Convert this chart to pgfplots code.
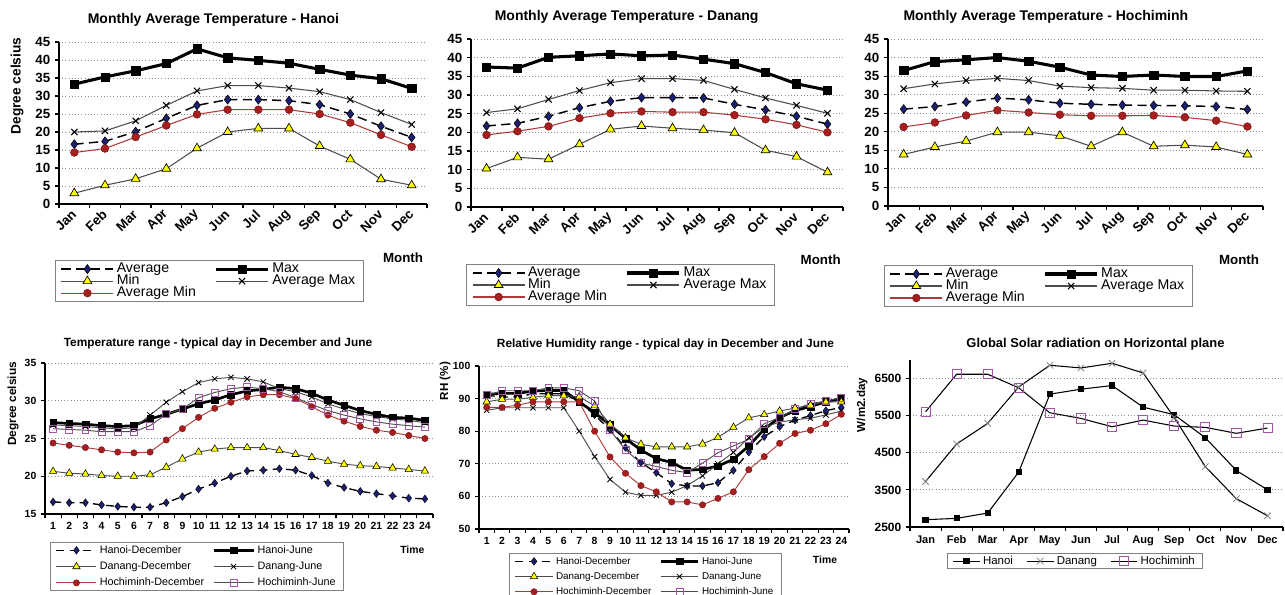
\documentclass[border=0pt]{standalone}
\usepackage{pgfplots}
\usepackage{pgfplotstable}
\pgfplotsset{compat=1.18}
\usepackage{fontspec}
\setmainfont{Liberation Sans}

\definecolor{navy}{HTML}{1C2070}
\definecolor{ylw}{HTML}{FFFF00}
\definecolor{redm}{HTML}{A81E1E}
\definecolor{redl}{HTML}{B03A3A}
\definecolor{purp}{HTML}{A555A5}
\definecolor{dgray}{HTML}{4D4D4D}
\definecolor{gridc}{HTML}{8C8C8C}

% month, Average, Max, Min, Average Max, Average Min
\pgfplotstableread{
m avg max min amax amin
1 16.6 33.3 3.0 20.0 14.3
2 17.4 35.3 5.2 20.3 15.4
3 20.1 37.0 7.0 23.1 18.6
4 23.8 39.0 9.8 27.4 21.8
5 27.4 43.1 15.5 31.4 24.9
6 29.0 40.6 20.0 32.9 26.2
7 29.0 39.9 21.0 32.9 26.2
8 28.7 39.1 21.0 32.2 26.2
9 27.6 37.4 16.1 31.2 25.0
10 25.0 35.8 12.4 29.0 22.6
11 21.6 34.8 6.9 25.4 19.2
12 18.5 32.1 5.2 22.1 15.9
}\hanoi
\pgfplotstableread{
m avg max min amax amin
1 21.7 37.5 10.3 25.3 19.3
2 22.4 37.2 13.3 26.3 20.3
3 24.3 40.1 12.8 28.8 21.6
4 26.6 40.5 16.8 31.2 23.8
5 28.3 41.0 20.8 33.3 25.1
6 29.3 40.5 21.7 34.4 25.6
7 29.3 40.7 21.1 34.4 25.4
8 29.2 39.6 20.6 33.9 25.4
9 27.5 38.4 19.9 31.5 24.6
10 26.0 36.0 15.2 29.2 23.5
11 24.3 33.0 13.5 27.2 22.0
12 22.2 31.3 9.3 25.1 20.0
}\danang
\pgfplotstableread{
m avg max min amax amin
1 26.1 36.5 13.9 31.6 21.3
2 26.8 38.9 15.9 32.9 22.5
3 28.0 39.4 17.5 33.8 24.4
4 29.1 40.0 19.9 34.4 25.8
5 28.6 39.0 19.9 33.8 25.2
6 27.7 37.4 18.9 32.3 24.6
7 27.4 35.3 16.1 31.9 24.3
8 27.2 34.9 19.9 31.7 24.3
9 27.1 35.3 16.1 31.2 24.4
10 27.0 34.9 16.4 31.2 23.9
11 26.8 34.9 15.9 31.0 23.0
12 26.0 36.4 13.9 30.9 21.4
}\hcm
% hour: Hanoi-Dec, Hanoi-Jun, Danang-Dec, Danang-Jun, HCM-Dec, HCM-Jun
\pgfplotstableread{
h hd hj dd dj cd cj
1 16.6 27.1 20.65 26.8 24.4 26.3
2 16.5 27.0 20.4 26.7 24.1 26.2
3 16.5 26.9 20.3 26.6 23.8 26.1
4 16.2 26.7 20.1 26.4 23.5 25.9
5 16.0 26.6 20.0 26.3 23.2 25.9
6 15.9 26.7 20.0 26.4 23.1 25.9
7 15.9 27.6 20.2 28.1 23.2 26.7
8 16.5 28.2 21.2 29.8 24.8 28.2
9 17.3 28.9 22.3 31.2 26.3 28.9
10 18.3 29.6 23.2 32.4 27.8 30.4
11 19.1 30.1 23.6 32.9 29.0 31.1
12 20.0 30.8 23.8 33.1 29.8 31.6
13 20.7 31.3 23.8 32.9 30.5 31.8
14 20.8 31.5 23.8 32.5 30.8 31.6
15 21.0 31.8 23.4 31.6 30.8 31.2
16 20.8 31.6 22.9 31.2 30.3 30.4
17 20.1 31.0 22.5 30.5 29.2 29.5
18 19.1 30.1 22.0 29.6 28.1 28.7
19 18.5 29.4 21.6 28.9 27.3 28.1
20 18.0 28.7 21.4 28.3 26.6 27.6
21 17.7 28.2 21.3 27.9 26.1 27.2
22 17.4 27.8 21.1 27.6 25.8 26.9
23 17.1 27.7 20.9 27.4 25.4 26.7
24 17.0 27.4 20.7 27.1 25.0 26.5
}\tday
\pgfplotstableread{
h hd hj dd dj cd cj
1 91.0 91.3 89.0 86.4 87.3 91.0
2 90.5 91.6 89.8 87.2 87.3 92.4
3 90.5 91.6 89.8 87.2 88.0 92.4
4 91.5 92.3 90.4 87.2 89.0 92.4
5 91.5 92.5 90.9 87.2 89.0 93.3
6 91.5 92.5 90.9 87.2 89.0 93.3
7 89.0 89.0 90.6 80.0 89.0 92.4
8 85.0 85.7 87.8 72.2 80.0 89.3
9 80.4 81.9 82.2 65.2 72.1 80.3
10 75.0 77.8 78.0 61.3 67.1 74.3
11 70.4 74.2 76.0 60.3 63.3 70.2
12 67.3 71.6 75.2 60.3 61.4 69.2
13 63.9 70.4 75.2 61.3 58.3 68.0
14 63.2 68.0 75.2 63.3 58.3 67.3
15 63.2 68.3 76.1 66.3 57.4 70.2
16 64.2 69.3 78.1 70.0 59.4 73.4
17 68.0 71.4 81.2 73.5 61.4 75.5
18 73.6 75.5 84.1 78.0 68.2 77.5
19 78.3 80.6 85.1 81.2 72.2 82.3
20 81.4 84.2 86.2 82.8 76.3 84.2
21 83.4 86.3 87.1 83.5 79.3 86.7
22 84.8 87.6 88.0 84.0 80.3 88.5
23 86.3 89.0 89.0 85.0 82.3 89.2
24 87.3 90.0 89.0 86.2 85.2 90.3
}\rhday
\pgfplotstableread{
m hn dn hc
1 2697 3726 5605
2 2733 4737 6616
3 2876 5292 6616
4 3985 6276 6250
5 6079 6858 5578
6 6214 6786 5426
7 6312 6912 5202
8 5730 6652 5381
9 5525 5450 5220
10 4907 4129 5185
11 4021 3261 5024
12 3502 2804 5167
}\solar

\pgfplotsset{
 panel/.style={
  scale only axis, anchor=south west,
  axis x line*=bottom, axis y line*=left,
  axis line style={line width=1pt, black, -},
  tick align=outside, major tick length=3pt,
  tick style={black, line width=0.8pt},
  ymajorgrids, grid style={dotted, gridc, line width=0.7pt},
  x tick label as interval,
  /pgf/number format/assume math mode=true,
  /pgf/number format/1000 sep={},
  scaled ticks=false,
  legend cell align=left,
  clip=false,
 },
 toppanel/.style={panel,
  xmin=0.5, xmax=12.5, ymin=0, ymax=45,
  xtick={0.5,1.5,...,12.5},
  xticklabels={Jan,Feb,Mar,Apr,May,Jun,Jul,Aug,Sep,Oct,Nov,Dec},
  ytick={0,5,...,45},
  tick label style={font=\fontsize{10}{12}\selectfont\bfseries},
  xticklabel style={rotate=45, anchor=east, yshift=-2pt, xshift=1pt},
  legend columns=2,
  legend style={draw=gray, line width=0.6pt, fill=white,
   font=\fontsize{10.6}{10}\selectfont, inner xsep=4pt, inner ysep=2pt,
   row sep=0pt,
   /tikz/every even column/.append style={column sep=12pt},
   nodes={inner xsep=2pt, inner ysep=0pt, text height=7pt, text depth=2pt}},
  legend image code/.code={\draw[mark repeat=2,mark phase=2,##1] plot coordinates {(0pt,0pt)(19.5pt,0pt)(39pt,0pt)};},
 },
 avgS/.style={black, line width=1.1pt, dash pattern=on 7pt off 4pt, mark=diamond*, mark size=3.4pt, mark options={solid, fill=navy, draw=black, line width=0.4pt}},
 maxS/.style={black, line width=2.3pt, mark=square*, mark size=3.1pt, mark options={solid, fill=black, line width=0.4pt}},
 minS/.style={dgray, line width=0.8pt, mark=triangle*, mark size=3.8pt, mark options={solid, fill=ylw, draw=black, line width=0.5pt}},
 amaxS/.style={dgray, line width=0.8pt, mark=x, mark size=3.3pt, mark options={solid, draw=black, line width=0.8pt}},
 aminS/.style={redl, line width=0.8pt, mark=*, mark size=2.9pt, mark options={solid, fill=redm, draw=redm!70!black, line width=0.4pt}},
 hdS/.style={black, line width=1pt, dash pattern=on 6pt off 4pt, mark=diamond*, mark size=2.9pt, mark options={solid, fill=navy, draw=black, line width=0.3pt}},
 hjS/.style={black, line width=2pt, mark=square*, mark size=2.5pt, mark options={solid, fill=black, line width=0.3pt}},
 ddS/.style={dgray, line width=0.7pt, mark=triangle*, mark size=3.2pt, mark options={solid, fill=ylw, draw=black, line width=0.4pt}},
 djS/.style={dgray, line width=0.7pt, mark=x, mark size=2.8pt, mark options={solid, draw=black, line width=0.6pt}},
 cdS/.style={redl, line width=0.7pt, mark=*, mark size=2.4pt, mark options={solid, fill=redm, draw=redm!70!black, line width=0.3pt}},
 cjS/.style={dgray, line width=0.7pt, mark=square, mark size=2.6pt, mark options={solid, fill=white, draw=purp, line width=0.6pt}},
 botpanel/.style={panel,
  xmin=0.5, xmax=24.5,
  xtick={0.5,1.5,...,24.5},
  xticklabels={1,2,3,4,5,6,7,8,9,10,11,12,13,14,15,16,17,18,19,20,21,22,23,24},
  tick label style={font=\fontsize{7.8}{9}\selectfont\bfseries},
  legend columns=2,
  legend style={draw=gray, line width=0.6pt, fill=white,
   inner xsep=4pt, inner ysep=2pt,
   /tikz/every even column/.append style={column sep=4pt},
   nodes={inner xsep=2pt, inner ysep=0pt, text height=6pt, text depth=2pt}},
 },
}

\begin{document}
\begin{tikzpicture}
\useasboundingbox (0,0) rectangle (963.75pt,-446.25pt);

% ---------- Panel 1: Hanoi ----------
\begin{axis}[toppanel, at={(44.25pt,-153pt)}, width=276pt, height=121.5pt,
 legend style={at={(-0.011,-0.346)}, anchor=north west}]
\addplot[avgS] table[x=m,y=avg]{\hanoi}; \addlegendentry{Average}
\addplot[maxS] table[x=m,y=max]{\hanoi}; \addlegendentry{Max}
\addplot[minS] table[x=m,y=min]{\hanoi}; \addlegendentry{Min}
\addplot[amaxS] table[x=m,y=amax]{\hanoi}; \addlegendentry{Average Max}
\addplot[aminS] table[x=m,y=amin]{\hanoi}; \addlegendentry{Average Min}
\end{axis}

% ---------- Panel 2: Danang ----------
\begin{axis}[toppanel, at={(353.25pt,-155.25pt)}, width=279pt, height=126pt,
 legend style={at={(-0.013,-0.339)}, anchor=north west}]
\addplot[avgS] table[x=m,y=avg]{\danang}; \addlegendentry{Average}
\addplot[maxS] table[x=m,y=max]{\danang}; \addlegendentry{Max}
\addplot[minS] table[x=m,y=min]{\danang}; \addlegendentry{Min}
\addplot[amaxS] table[x=m,y=amax]{\danang}; \addlegendentry{Average Max}
\addplot[aminS] table[x=m,y=amin]{\danang}; \addlegendentry{Average Min}
\end{axis}

% ---------- Panel 3: Hochiminh ----------
\begin{axis}[toppanel, at={(666pt,-154.5pt)}, width=281.25pt, height=125.25pt,
 legend style={at={(-0.011,-0.353)}, anchor=north west}]
\addplot[avgS] table[x=m,y=avg]{\hcm}; \addlegendentry{Average}
\addplot[maxS] table[x=m,y=max]{\hcm}; \addlegendentry{Max}
\addplot[minS] table[x=m,y=min]{\hcm}; \addlegendentry{Min}
\addplot[amaxS] table[x=m,y=amax]{\hcm}; \addlegendentry{Average Max}
\addplot[aminS] table[x=m,y=amin]{\hcm}; \addlegendentry{Average Min}
\end{axis}

% ---------- Panel 4: temperature, typical day ----------
\begin{axis}[botpanel, at={(33.75pt,-385.5pt)}, width=291pt, height=113.25pt,
 ymin=15, ymax=35, ytick={15,20,...,35},
 legend style={at={(0.013,-0.185)}, anchor=north west, font=\fontsize{8.1}{9}\selectfont, row sep=4.2pt},
 legend image code/.code={\draw[mark repeat=2,mark phase=2,#1] plot coordinates {(0pt,0pt)(15pt,0pt)(30pt,0pt)};}]
\addplot[hdS] table[x=h,y=hd]{\tday}; \addlegendentry{Hanoi-December}
\addplot[hjS] table[x=h,y=hj]{\tday}; \addlegendentry{Hanoi-June}
\addplot[ddS] table[x=h,y=dd]{\tday}; \addlegendentry{Danang-December}
\addplot[djS] table[x=h,y=dj]{\tday}; \addlegendentry{Danang-June}
\addplot[cdS] table[x=h,y=cd]{\tday}; \addlegendentry{Hochiminh-December}
\addplot[cjS] table[x=h,y=cj]{\tday}; \addlegendentry{Hochiminh-June}
\end{axis}

% ---------- Panel 5: RH, typical day ----------
\begin{axis}[botpanel, at={(359.25pt,-396.75pt)}, width=277.5pt, height=122.25pt,
 ymin=50, ymax=100, ytick={50,60,...,100},
 legend style={at={(0.081,-0.147)}, anchor=north west, font=\fontsize{7.4}{9}\selectfont, row sep=3.4pt},
 legend image code/.code={\draw[mark repeat=2,mark phase=2,#1] plot coordinates {(0pt,0pt)(14pt,0pt)(28pt,0pt)};}]
\addplot[hdS] table[x=h,y=hd]{\rhday}; \addlegendentry{Hanoi-December}
\addplot[hjS] table[x=h,y=hj]{\rhday}; \addlegendentry{Hanoi-June}
\addplot[ddS] table[x=h,y=dd]{\rhday}; \addlegendentry{Danang-December}
\addplot[djS] table[x=h,y=dj]{\rhday}; \addlegendentry{Danang-June}
\addplot[cdS] table[x=h,y=cd]{\rhday}; \addlegendentry{Hochiminh-December}
\addplot[cjS] table[x=h,y=cj]{\rhday}; \addlegendentry{Hochiminh-June}
\end{axis}

% ---------- Panel 6: solar radiation ----------
\begin{axis}[panel, at={(682.5pt,-395.25pt)}, width=279.75pt, height=125.25pt,
 xmin=0.5, xmax=12.5, ymin=2500, ymax=7000,
 xtick={0.5,1.5,...,12.5},
 xticklabels={Jan,Feb,Mar,Apr,May,Jun,Jul,Aug,Sep,Oct,Nov,Dec},
 ytick={2500,3500,4500,5500,6500},
 xticklabel style={font=\fontsize{8.3}{9}\selectfont\bfseries},
 yticklabel style={font=\fontsize{9}{10}\selectfont\bfseries},
 legend columns=3,
 legend style={at={(0.099,-0.156)}, anchor=north west, draw=gray, line width=0.6pt,
  font=\fontsize{8.6}{9}\selectfont, inner xsep=4pt, inner ysep=1.5pt,
  /tikz/every even column/.append style={column sep=8pt},
  nodes={inner xsep=2pt, inner ysep=0pt, text height=6.5pt, text depth=2pt}},
 legend image code/.code={\draw[mark repeat=2,mark phase=2,#1] plot coordinates {(0pt,0pt)(10pt,0pt)(20pt,0pt)};}]
\addplot[black, line width=0.8pt, mark=square*, mark size=1.9pt, mark options={fill=black}] table[x=m,y=hn]{\solar}; \addlegendentry{Hanoi}
\addplot[black, line width=0.8pt, mark=x, mark size=3.4pt, mark options={draw=gray, line width=0.6pt}] table[x=m,y=dn]{\solar}; \addlegendentry{Danang}
\addplot[black, line width=0.8pt, mark=square, mark size=3.4pt, mark options={draw=purp, fill=white, line width=0.6pt}] table[x=m,y=hc]{\solar}; \addlegendentry{Hochiminh}
\end{axis}

% ---------- titles and labels ----------
\node[font=\fontsize{10.5}{12}\selectfont\bfseries] at (160.1pt,-15pt) {Monthly Average Temperature - Hanoi};
\node[font=\fontsize{10.5}{12}\selectfont\bfseries] at (470pt,-12.5pt) {Monthly Average Temperature - Danang};
\node[font=\fontsize{10.5}{12}\selectfont\bfseries] at (784.4pt,-12.5pt) {Monthly Average Temperature - Hochiminh};
\node[font=\fontsize{8.9}{10}\selectfont\bfseries] at (163.5pt,-257.5pt) {Temperature range - typical day in December and June};
\node[font=\fontsize{8.9}{10}\selectfont\bfseries] at (499.1pt,-258pt) {Relative Humidity range - typical day in December and June};
\node[font=\fontsize{9.7}{10}\selectfont\bfseries] at (821.6pt,-258pt) {Global Solar radiation on Horizontal plane};

\node[font=\fontsize{10}{12}\selectfont\bfseries] at (302.25pt,-193.5pt) {Month};
\node[font=\fontsize{10}{12}\selectfont\bfseries] at (615.5pt,-195pt) {Month};
\node[font=\fontsize{10}{12}\selectfont\bfseries] at (929.25pt,-195pt) {Month};
\node[font=\fontsize{7.8}{9}\selectfont\bfseries] at (309.25pt,-412pt) {Time};
\node[font=\fontsize{7.8}{9}\selectfont\bfseries] at (618.75pt,-419.5pt) {Time};

\node[rotate=90, font=\fontsize{10.3}{12}\selectfont\bfseries] at (12.75pt,-64.5pt) {Degree celsius};
\node[rotate=90, font=\fontsize{8.9}{10}\selectfont\bfseries] at (9.75pt,-303pt) {Degree celsius};
\node[rotate=90, font=\fontsize{8.7}{10}\selectfont\bfseries] at (333.75pt,-285.75pt) {RH (\%)};
\node[rotate=90, font=\fontsize{8.7}{10}\selectfont\bfseries] at (646.5pt,-303.75pt) {W/m2.day};
\end{tikzpicture}
\end{document}
